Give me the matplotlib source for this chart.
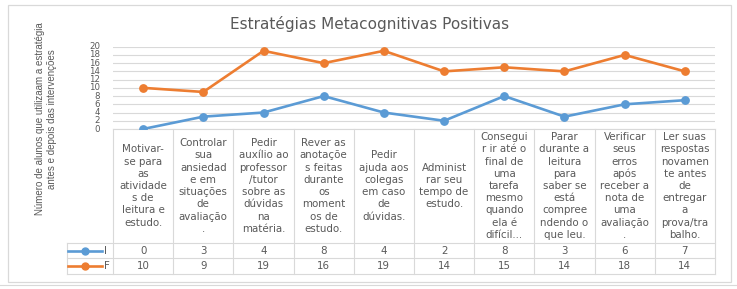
import numpy as np
import matplotlib.pyplot as plt

# data
categorias = [
    "Motivar-\nse para\nas\natividade\ns de\nleitura e\nestudo.",
    "Controlar\nsua\nansiedad\ne em\nsituações\nde\navaliação\n.",
    "Pedir\nauxílio ao\nprofessor\n/tutor\nsobre as\ndúvidas\nna\nmatéria.",
    "Rever as\nanotaçõe\ns feitas\ndurante\nos\nmoment\nos de\nestudo.",
    "Pedir\najuda aos\ncolegas\nem caso\nde\ndúvidas.",
    "Administ\nrar seu\ntempo de\nestudo.",
    "Consegui\nr ir até o\nfinal de\numa\ntarefa\nmesmo\nquando\nela é\ndifícil...",
    "Parar\ndurante a\nleitura\npara\nsaber se\nestá\ncompree\nndendo o\nque leu.",
    "Verificar\nseus\nerros\napós\nreceber a\nnota de\numa\navaliação\n.",
    "Ler suas\nrespostas\nnovamen\nte antes\nde\nentregar\na\nprova/tra\nbalho.",
]
serie_I = [0, 3, 4, 8, 4, 2, 8, 3, 6, 7]
serie_F = [10, 9, 19, 16, 19, 14, 15, 14, 18, 14]
nomes = ["I", "F"]
yticks = list(range(0, 21, 2))

azul = "#5B9BD5"
laranja = "#ED7D31"
cinza_txt = "#595959"
cinza_lin = "#D9D9D9"

W, H = 737, 289
x0, x1 = 113, 715      # plot area in px
ytop, ybot = 46.7, 129
row_hdr, row_i, row_f = 243, 258, 274
leg_x = 67

fig = plt.figure(figsize=(W / 100, H / 100), dpi=100)

# overlay in pixel coords for table, labels and border
ov = fig.add_axes([0, 0, 1, 1])
ov.set_xlim(0, W)
ov.set_ylim(H, 0)
ov.axis("off")

ax = fig.add_axes([x0 / W, 1 - ybot / H, (x1 - x0) / W, (ybot - ytop) / H])
ax.set_facecolor("none")
n = len(categorias)
xs = np.arange(n) + 0.5
ax.set_xlim(0, n)
ax.set_ylim(0, 20)
for v in yticks:
    ax.axhline(v, color=cinza_lin, lw=0.8, zorder=0)
ax.plot(xs, serie_I, color=azul, lw=1.9, marker="o", ms=5.3, zorder=3)
ax.plot(xs, serie_F, color=laranja, lw=1.9, marker="o", ms=5.3, zorder=3)
ax.set_xticks([])
ax.set_yticks([])
for s in ax.spines.values():
    s.set_visible(False)

# y tick labels
for v in yticks:
    py = ybot - (ybot - ytop) * v / 20
    ov.text(100, py, str(v), ha="right", va="center", fontsize=6.2,
            color=cinza_txt, family="DejaVu Sans")

# title
ov.text(369.5, 29, "Estratégias Metacognitivas Positivas", ha="center",
        va="baseline", fontsize=11, color=cinza_txt, family="DejaVu Sans")

# y label
ov.text(46, 119, "Número de alunos que utilizaam a estratégia\nantes e depois das intervenções",
        rotation=90, ha="center", va="center", multialignment="center",
        fontsize=7, color=cinza_txt, family=["Liberation Sans", "DejaVu Sans"],
        linespacing=1.2)

# table grid
cw = (x1 - x0) / n
for k in range(n + 1):
    ov.plot([x0 + k * cw] * 2, [ybot, row_f], color=cinza_lin, lw=0.8)
ov.plot([x0, x1], [ybot, ybot], color=cinza_lin, lw=0.8)
for yy in (row_hdr, row_i, row_f):
    ov.plot([leg_x, x1], [yy, yy], color=cinza_lin, lw=0.8)
ov.plot([leg_x, leg_x], [row_hdr, row_f], color=cinza_lin, lw=0.8)

# header cells
lh = 12.2
for k, cat in enumerate(categorias):
    linhas = cat.split("\n")
    cx = x0 + (k + 0.5) * cw
    cy = (ybot + row_hdr) / 2
    start = cy - lh * (len(linhas) - 1) / 2
    for j, t in enumerate(linhas):
        ov.text(cx, start + j * lh, t, ha="center", va="center", fontsize=7.4,
                color=cinza_txt, family="DejaVu Sans")

# value rows with legend keys
for serie, nome, cor, (ya, yb) in [(serie_I, nomes[0], azul, (row_hdr, row_i)),
                                   (serie_F, nomes[1], laranja, (row_i, row_f))]:
    cy = (ya + yb) / 2
    ov.plot([68, 102], [cy, cy], color=cor, lw=1.9)
    ov.plot([85], [cy], color=cor, marker="o", ms=5)
    ov.text(104, cy, nome, ha="left", va="center", fontsize=7.4,
            color=cinza_txt, family="DejaVu Sans")
    for k, v in enumerate(serie):
        ov.text(x0 + (k + 0.5) * cw, cy, str(v), ha="center", va="center",
                fontsize=7.4, color=cinza_txt, family="DejaVu Sans")

# chart border
ov.add_patch(plt.Rectangle((8, 5), 723, 277, fill=False, ec=cinza_lin, lw=0.9))
ov.plot([0, W], [285, 285], color=cinza_lin, lw=0.8)

fig.savefig("out.png", dpi=100)
